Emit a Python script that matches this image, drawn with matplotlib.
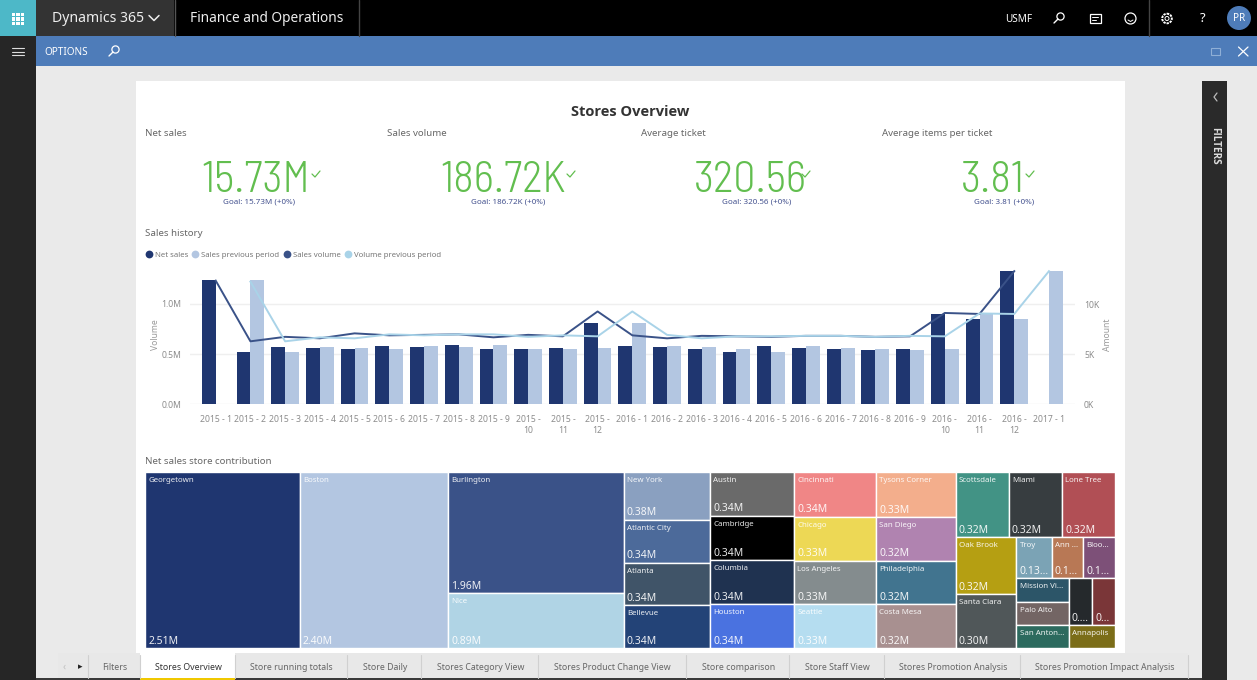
import matplotlib
matplotlib.use("Agg")
import matplotlib.pyplot as plt
from matplotlib.patches import Rectangle, Circle
from matplotlib.lines import Line2D

W, H = 1257, 680
plt.rcParams['font.family'] = ['Noto Sans', 'DejaVu Sans']

# ---------- data ----------
periods = ['2015 - 1', '2015 - 2', '2015 - 3', '2015 - 4', '2015 - 5', '2015 - 6', '2015 - 7', '2015 - 8', '2015 - 9',
           '2015 -\n10', '2015 -\n11', '2015 -\n12',
           '2016 - 1', '2016 - 2', '2016 - 3', '2016 - 4', '2016 - 5', '2016 - 6', '2016 - 7', '2016 - 8', '2016 - 9',
           '2016 -\n10', '2016 -\n11', '2016 -\n12', '2017 - 1']
net_sales = [1.24, .52, .57, .555, .55, .585, .575, .59, .55, .55, .565, .81,
             .58, .575, .55, .52, .58, .56, .55, .54, .55, .895, .85, 1.33, None]
sales_prev = [None, 1.24, .52, .57, .555, .55, .585, .575, .59, .55, .55, .565,
              .81, .58, .575, .55, .52, .58, .56, .55, .54, .55, .895, .85, 1.33]
sales_volume = [12.4, 6.3, 6.75, 6.6, 7.1, 6.9, 6.95, 7.0, 6.7, 6.95, 6.8, 9.3,
                6.9, 6.6, 6.85, 6.8, 6.75, 6.85, 6.85, 6.75, 6.8, 9.15, 9.05, 13.35, None]
volume_prev = [None, 12.3, 6.3, 6.7, 6.6, 7.0, 6.9, 7.0, 7.0, 6.75, 6.9, 6.8,
               9.3, 6.95, 6.6, 6.8, 6.8, 6.85, 6.85, 6.75, 6.85, 6.8, 9.1, 9.05, 13.35]
series_names = ['Net sales', 'Sales previous period', 'Sales volume', 'Volume previous period']
series_colors = ['#1F3670', '#B3C6E1', '#3A5288', '#A9D3E8']

kpi_titles = ['Net sales', 'Sales volume', 'Average ticket', 'Average items per ticket']
kpi_values = ['15.73M', '186.72K', '320.56', '3.81']
kpi_goals = ['Goal: 15.73M (+0%)', 'Goal: 186.72K (+0%)', 'Goal: 320.56 (+0%)', 'Goal: 3.81 (+0%)']

store_names = ['Georgetown', 'Boston', 'Burlington', 'Nice',
               'New York', 'Atlantic City', 'Atlanta', 'Bellevue',
               'Austin', 'Cambridge', 'Columbia', 'Houston',
               'Cincinnati', 'Chicago', 'Los Angeles', 'Seattle',
               'Tysons Corner', 'San Diego', 'Philadelphia', 'Costa Mesa',
               'Scottsdale', 'Miami', 'Lone Tree', 'Oak Brook', 'Santa Clara',
               'Troy', 'Ann ...', 'Bloo...', 'Mission Vi...', 'Palo Alto', 'San Anton...',
               '', '', 'Annapolis']
store_values = [2.51, 2.40, 1.96, .89,
                .38, .34, .34, .34,
                .34, .34, .34, .34,
                .34, .33, .33, .33,
                .33, .32, .32, .32,
                .32, .32, .32, .32, .30,
                .133, .118, .12, .115, .11, .11,
                .10, .10, .098]
store_labels = ['2.51M', '2.40M', '1.96M', '0.89M',
                '0.38M', '0.34M', '0.34M', '0.34M',
                '0.34M', '0.34M', '0.34M', '0.34M',
                '0.34M', '0.33M', '0.33M', '0.33M',
                '0.33M', '0.32M', '0.32M', '0.32M',
                '0.32M', '0.32M', '0.32M', '0.32M', '0.30M',
                '0.13...', '0.1...', '0.1...', '', '', '',
                '0....', '0...', '']
store_colors = ['#1F3670', '#B3C6E1', '#3A5288', '#B0D4E5',
                '#8AA0C0', '#4C6A9A', '#405468', '#234377',
                '#6A6A6A', '#000000', '#1F3250', '#4A72E0',
                '#F08686', '#EDD855', '#848C8E', '#B5DDF0',
                '#F3AE8C', '#B083B0', '#41748F', '#A89090',
                '#429385', '#373D40', '#B14F55', '#B59F12', '#505759',
                '#7BA3B5', '#B87855', '#7D5078', '#2C5568', '#736564', '#2C6A5E',
                '#25292C', '#7A3638', '#7B6D18']
tree = ('row', [0, 1, ('col', [2, 3]), ('col', [4, 5, 6, 7]), ('col', [8, 9, 10, 11]),
                ('col', [12, 13, 14, 15]), ('col', [16, 17, 18, 19]),
                ('col', [('row', [20, 21, 22]),
                         ('row', [('col', [23, 24]),
                                  ('col', [('row', [25, 26, 27]),
                                           ('row', [('col', [28, 29, 30]),
                                                    ('col', [('row', [31, 32]), 33])])])])])])

tab_names = ['Filters', 'Stores Overview', 'Store running totals', 'Store Daily', 'Stores Category View',
             'Stores Product Change View', 'Store comparison', 'Store Staff View',
             'Stores Promotion Analysis', 'Stores Promotion Impact Analysis']


# ---------- helpers ----------
def px(size):
    return size * 0.72


def axes_px(l, t, r, b, **kw):
    return fig.add_axes([l / W, 1 - b / H, (r - l) / W, (b - t) / H], **kw)


fig = plt.figure(figsize=(W / 100, H / 100), dpi=100, facecolor='#EAEAEA')

# ---------- application chrome ----------
ui = fig.add_axes([0, 0, 1, 1], zorder=0)
ui.set_xlim(0, W)
ui.set_ylim(H, 0)
ui.axis('off')


def box(x0, y0, x1, y1, color, **kw):
    ui.add_patch(Rectangle((x0, y0), x1 - x0, y1 - y0, fc=color, ec='none', **kw))


def seg(xs, ys, color='white', lw=1.0):
    ui.plot(xs, ys, color=color, lw=lw, solid_capstyle='round')


def magnifier(x, y, color='white'):
    ui.add_patch(Circle((x + 1.5, y - 1.5), 3.6, fc='none', ec=color, lw=0.9))
    seg([x - 1, x - 5], [y + 1, y + 5], color, 1.0)


box(0, 0, W, 36, '#000000')
box(0, 36, 36, H, '#262626')
box(0, 0, 36, 36, '#4DB8C8')
box(36, 0, 174, 36, '#333333')
box(36, 36, W, 66, '#4E7CB9')
box(136, 81, 1125, 654, 'white')
box(1202, 81, 1227, H, '#2A2A2A')
seg([174.5, 174.5], [0, 36], '#555555', 1)
seg([358.5, 358.5], [0, 36], '#444444', 1)
seg([1148.5, 1148.5], [0, 36], '#444444', 1)

for i in range(3):
    for j in range(3):
        box(12 + i * 4.4, 13 + j * 4.4, 15.4 + i * 4.4, 16.4 + j * 4.4, 'white')
for yy in (48, 51.5, 55):
    seg([12, 24], [yy, yy], '#DDDDDD', 0.8)
ui.text(52, 18.5, 'Dynamics 365', color='#EEEEEE', fontsize=px(14), va='center')
seg([149, 154, 159], [15.5, 20.5, 15.5], '#EEEEEE', 1.1)
ui.text(190, 18.5, 'Finance and Operations', color='#EEEEEE', fontsize=px(13.7), va='center')
ui.text(44, 52.5, 'OPTIONS', color='white', fontsize=px(10), va='center')
magnifier(114, 51)
ui.text(1019, 19, 'USMF', color='white', fontsize=px(10), va='center', ha='center')
magnifier(1059, 18)
ui.add_patch(Rectangle((1089.5, 14), 11, 9, fc='none', ec='white', lw=0.9))
seg([1092, 1098], [17, 17], 'white', 0.7)
seg([1092, 1096], [19.5, 19.5], 'white', 0.7)
ui.add_patch(Circle((1130.5, 18.5), 5.5, fc='none', ec='white', lw=0.9))
seg([1128, 1130.5, 1133], [20, 21.5, 20], 'white', 0.7)
ui.add_patch(Circle((1167, 18.5), 4.8, fc='none', ec='white', lw=1.4, ls=(0, (1.2, 0.5))))
ui.add_patch(Circle((1167, 18.5), 2, fc='none', ec='white', lw=0.7))
ui.text(1203, 19, '?', color='white', fontsize=px(13), va='center', ha='center')
ui.add_patch(Circle((1239, 18), 12, fc='#4E7CB9', ec='none'))
ui.text(1239, 18.5, 'PR', color='white', fontsize=px(10), va='center', ha='center')
ui.add_patch(Rectangle((1210.5, 48), 9, 7, fc='none', ec='#8FAFD6', lw=0.8))
seg([1238.5, 1248], [47, 56], 'white', 0.9)
seg([1238.5, 1248], [56, 47], 'white', 0.9)
seg([1217, 1214, 1217], [93, 97, 101], '#BBBBBB', 0.9)
ui.text(1214.5, 146, 'FILTERS', color='#DDDDDD', fontsize=px(10), fontweight='bold',
        rotation=270, ha='center', va='center', family=['Open Sans', 'DejaVu Sans'])

# ---------- tabs ----------
tab_edges = [88, 140, 235, 347, 421, 538, 686, 789, 884, 1020, 1188]
box(58, 653, 1188, 678, '#E8E8E8')
box(36, 678, 1202, H, '#3A3A3A')
box(140, 653, 235, 678, 'white')
box(140, 677.5, 235, 680, '#F0C800')
for e in tab_edges:
    seg([e, e], [655, 678], '#D0D0D0', 0.8)
ui.text(64, 667, '‹', color='#C0C0C0', fontsize=px(10), ha='center', va='center')
ui.text(80, 667, '▸', color='#222222', fontsize=px(9), ha='center', va='center')
for i, name in enumerate(tab_names):
    ui.text((tab_edges[i] + tab_edges[i + 1]) / 2 + 0.7, 667, name, ha='center', va='center',
            fontsize=px(8.8), color='#333333' if i == 1 else '#666666')

# ---------- page texts ----------
ui.text(630, 112, 'Stores Overview', fontsize=px(14.6), fontweight='bold', color='#333333', ha='center', va='center',
        family=['Open Sans', 'DejaVu Sans'])
kpi_title_x = [145, 387, 641, 882]
kpi_value_x = [256, 503.5, 750.5, 992.5]
kpi_check_x = [316, 571, 806, 1030]
kpi_goal_x = [259, 508, 757, 1004]
for i in range(4):
    ui.text(kpi_title_x[i], 134, kpi_titles[i], fontsize=px(9.7), color='#666666', va='center')
    ui.text(kpi_value_x[i], 192, kpi_values[i], fontsize=px(44), color='#62BE4F', ha='center', va='baseline',
            family=['Barlow Semi Condensed', 'Barlow Condensed', 'Noto Sans'], fontweight=300)
    cx = kpi_check_x[i]
    seg([cx - 4, cx - 1, cx + 4], [174, 177, 171], '#62BE4F', 0.9)
    ui.text(kpi_goal_x[i], 202, kpi_goals[i], fontsize=px(8), color='#44528F', ha='center', va='center')
ui.text(145, 234, 'Sales history', fontsize=px(9.7), color='#666666', va='center')
ui.text(145, 462, 'Net sales store contribution', fontsize=px(9.7), color='#666666', va='center')

# ---------- combo chart ----------
x_left, x_right, y_top, y_bottom = 190, 1075, 265, 404
ax = axes_px(x_left, y_top, x_right, y_bottom, zorder=2)
ax.patch.set_alpha(0)
x = list(range(len(periods)))
bar_w = 0.4
ax.bar([i - bar_w / 2 for i in x], [v or 0 for v in net_sales], bar_w, color=series_colors[0], zorder=2)
ax.bar([i + bar_w / 2 for i in x], [v or 0 for v in sales_prev], bar_w, color=series_colors[1], zorder=2)
ax.set_xlim(-0.74, 24.75)
ax.set_ylim(0, 1.39)
ax.set_yticks([0, .5, 1.0])
ax.set_yticklabels(['0.0M', '0.5M', '1.0M'])
ax.set_xticks(x)
ax.set_xticklabels(periods, linespacing=1.25)
ax.grid(axis='y', color='#EFEFEF', lw=1, zorder=0)
ax.tick_params(axis='both', length=0, colors='#8C8C8C', labelsize=px(8.6))
ax.tick_params(axis='x', pad=8)
ax.tick_params(axis='y', pad=6)
for s in ax.spines.values():
    s.set_visible(False)
ax.set_ylabel('Volume', fontsize=px(8.6), color='#9A9A9A', labelpad=1)

ax2 = ax.twinx()
ax2.plot(x, sales_volume, color=series_colors[2], lw=1.4, zorder=3)
ax2.plot(x, volume_prev, color=series_colors[3], lw=1.4, zorder=3)
ax2.set_ylim(0, 13.97)
ax2.set_yticks([0, 5, 10])
ax2.set_yticklabels(['0K', '5K', '10K'])
ax2.tick_params(axis='y', length=0, colors='#8C8C8C', labelsize=px(8.6), pad=6.5)
for s in ax2.spines.values():
    s.set_visible(False)
ax2.set_ylabel('Amount', fontsize=px(8.6), color='#9A9A9A', labelpad=3)

handles = [Line2D([], [], ls='none', marker='o', ms=5.6, mfc=c, mec='none') for c in series_colors]
fig.legend(handles, series_names, loc='center left', bbox_to_anchor=(146.5 / W, 1 - 255 / H), ncol=4,
           frameon=False, borderpad=0, borderaxespad=0, handlelength=0.6, handletextpad=0.45,
           columnspacing=0.65, fontsize=px(7.8), labelcolor='#777777')

# ---------- treemap ----------
tm = axes_px(145, 472, 1115, 648, zorder=2)
tm.set_xlim(0, 1)
tm.set_ylim(1, 0)
tm.axis('off')


def node_sum(node):
    if isinstance(node, int):
        return store_values[node]
    return sum(node_sum(c) for c in node[1])


def draw_cell(i, x0, y0, w, h):
    tm.add_patch(Rectangle((x0, y0), w, h, fc=store_colors[i], ec='white', lw=1.0))
    tm.annotate(store_names[i], (x0, y0), xytext=(3.2, -8.5), textcoords='offset pixels',
                color='white', alpha=0.9, fontsize=px(7.9), va='center', annotation_clip=False)
    tm.annotate(store_labels[i], (x0, y0 + h), xytext=(3.2, 7), textcoords='offset pixels',
                color='white', alpha=0.9, fontsize=px(10.4), va='center', annotation_clip=False)


def layout(node, x0, y0, w, h):
    if isinstance(node, int):
        draw_cell(node, x0, y0, w, h)
        return
    kind, children = node
    total = node_sum(node)
    pos = 0.0
    for c in children:
        f = node_sum(c) / total
        if kind == 'row':
            layout(c, x0 + pos * w, y0, f * w, h)
        else:
            layout(c, x0, y0 + pos * h, w, f * h)
        pos += f


layout(tree, 0, 0, 1, 1)

fig.savefig('out.png', dpi=100, facecolor=fig.get_facecolor())
